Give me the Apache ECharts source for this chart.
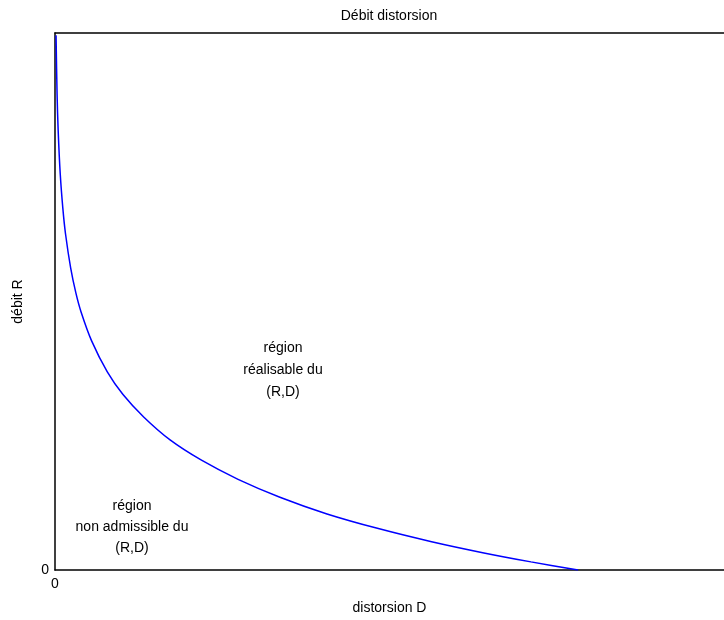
<!DOCTYPE html>
<html>
<head>
<meta charset="utf-8">
<script src="https://cdn.jsdelivr.net/npm/echarts@6/dist/echarts.min.js"></script>
<style>
html,body{margin:0;padding:0;background:#fff;}
#chart{width:724px;height:620px;}
</style>
</head>
<body>
<div id="chart"></div>
<script>
// Distortion D (x) and rate R (y)
const distortion = [0.002, 0.004, 0.006, 0.01, 0.015, 0.02, 0.03, 0.04, 0.05, 0.07, 0.1, 0.13, 0.17, 0.22, 0.28, 0.35, 0.43, 0.52, 0.62, 0.72, 0.82, 0.91, 1.0];
const rate       = [4.48, 3.98, 3.69, 3.32, 3.03, 2.82, 2.53, 2.32, 2.16, 1.92, 1.66, 1.47, 1.28, 1.09, 0.92, 0.76, 0.61, 0.47, 0.345, 0.237, 0.143, 0.068, 0.0];
const xTickLabels = ['0'];
const yTickLabels = ['0'];
const titleText = 'Débit distorsion';
const xName = 'distorsion D';
const yName = 'débit R';
const noteFeasible = ['région', 'réalisable du', '(R,D)'];
const noteInfeasible = ['région', 'non admissible du', '(R,D)'];

const FONT = 'Liberation Sans, Arial, Helvetica, sans-serif';
const chart = echarts.init(document.getElementById('chart'), null, {renderer: 'canvas'});
const pts = distortion.map((d, i) => [d, rate[i]]);
const X_MAX = 1.279;

chart.setOption({
  animation: false,
  backgroundColor: '#fff',
  grid: {left: 55, top: 33, right: 0, bottom: 50, show: false},
  xAxis: [{
    type: 'value', min: 0, max: X_MAX, interval: 10, position: 'bottom',
    name: xName, nameLocation: 'middle', nameGap: 31,
    nameTextStyle: {fontFamily: FONT, fontSize: 14, color: '#000'},
    axisLine: {show: true, onZero: false, lineStyle: {color: '#000', width: 1.5}},
    axisTick: {show: false},
    splitLine: {show: false},
    axisLabel: {fontFamily: FONT, fontSize: 14, color: '#000', margin: 7, showMaxLabel: false,
      formatter: (v) => v === 0 ? xTickLabels[0] : ''}
  }, {
    type: 'value', min: 0, max: X_MAX, interval: 10, position: 'top',
    axisLine: {show: true, onZero: false, lineStyle: {color: '#000', width: 1.5}},
    axisTick: {show: false}, axisLabel: {show: false}, splitLine: {show: false}
  }],
  yAxis: {
    type: 'value', min: 0, max: 4.5, interval: 10,
    name: yName, nameLocation: 'middle', nameGap: 30, nameRotate: 90,
    nameTextStyle: {fontFamily: FONT, fontSize: 14, color: '#000'},
    axisLine: {show: true, onZero: false, lineStyle: {color: '#000', width: 1.5}},
    axisTick: {show: false},
    splitLine: {show: false},
    axisLabel: {fontFamily: FONT, fontSize: 14, color: '#000', margin: 6, showMaxLabel: false,
      formatter: (v) => v === 0 ? yTickLabels[0] : ''}
  },
  series: [{
    type: 'line', data: pts, smooth: 0.3, symbol: 'none', xAxisIndex: 0,
    lineStyle: {color: '#0000ff', width: 1.5}
  }],
  graphic: [
    {type: 'text', style: {text: titleText, x: 389, y: 16, textAlign: 'center', textVerticalAlign: 'middle', font: '14px ' + FONT, fill: '#000'}},
    {type: 'text', style: {text: noteFeasible.join('\n'), x: 283, y: 337, textAlign: 'center', textVerticalAlign: 'top', font: '14px ' + FONT, fill: '#000', lineHeight: 22}},
    {type: 'text', style: {text: noteInfeasible.join('\n'), x: 132, y: 496, textAlign: 'center', textVerticalAlign: 'top', font: '14px ' + FONT, fill: '#000', lineHeight: 21}}
  ]
});
</script>
</body>
</html>
